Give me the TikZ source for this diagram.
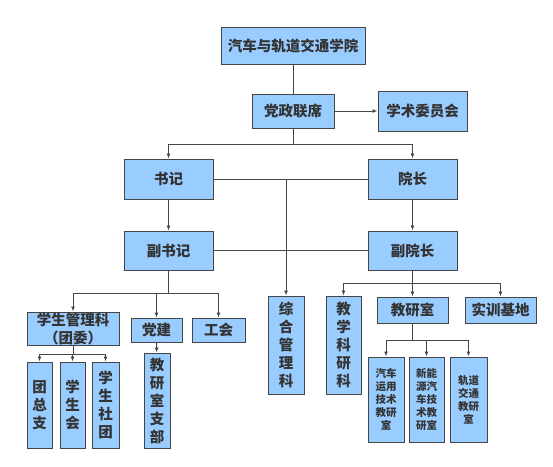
\documentclass[tikz,border=0pt]{standalone}
\usepackage{fontspec}
\setmainfont{Noto Sans CJK SC}
\usetikzlibrary{arrows.meta,positioning}
\definecolor{boxfill}{HTML}{99CCFF}
\definecolor{boxline}{HTML}{454545}
\definecolor{boxtext}{HTML}{333333}

\begin{document}
\begin{tikzpicture}[x=1pt,y=-1pt,>={Latex[length=5pt,width=4pt]},
    line width=1pt,draw=boxline,
    org node/.style={draw=boxline,fill=boxfill,text=boxtext,inner sep=0pt,align=center,
      font=\bfseries\fontsize{14.5}{18}\selectfont},
    small node/.style={org node,font=\bfseries\fontsize{10.5}{13}\selectfont}]

    \useasboundingbox (0,0) rectangle (553,466);

    % top levels
    \node[org node,minimum width=144pt,minimum height=37pt] (college) at (293,45.5) {汽车与轨道交通学院};
    \node[org node,minimum width=82pt,minimum height=34pt] (joint) at (293,111) {党政联席};
    \node[org node,minimum width=89pt,minimum height=40pt] (academic) at (422.5,111) {学术委员会};
    \node[org node,minimum width=89pt,minimum height=40pt] (secretary) at (168.5,179) {书记};
    \node[org node,minimum width=89pt,minimum height=40pt] (dean) at (412.5,179) {院长};
    \node[org node,minimum width=89pt,minimum height=39pt] (vsecretary) at (168.5,250.5) {副书记};
    \node[org node,minimum width=89pt,minimum height=39pt] (vdean) at (412.5,250.5) {副院长};

    % secretary branch
    \node[org node,minimum width=92pt,minimum height=33pt] (student) at (73,328.5) {学生管理科\\（团委）};
    \node[org node,minimum width=51pt,minimum height=24pt] (party) at (156.5,330) {党建};
    \node[org node,minimum width=53pt,minimum height=24pt] (union) at (218.5,330) {工会};
    \node[org node,minimum width=25pt,minimum height=86pt] (league) at (39.5,405) {团\\总\\支};
    \node[org node,minimum width=25pt,minimum height=86pt] (council) at (72.5,405) {学\\生\\会};
    \node[org node,minimum width=27pt,minimum height=86pt] (clubs) at (105.5,405) {学\\生\\社\\团};
    \node[org node,minimum width=26pt,minimum height=95pt] (branch) at (157,400.5) {教\\研\\室\\支\\部};

    % middle
    \node[org node,minimum width=36pt,minimum height=98pt] (general) at (286,345) {综\\合\\管\\理\\科};

    % dean branch
    \node[org node,minimum width=35pt,minimum height=98pt] (research) at (343.5,345) {教\\学\\科\\研\\科};
    \node[org node,minimum width=71pt,minimum height=26pt] (teaching) at (412.5,310) {教研室};
    \node[org node,minimum width=71pt,minimum height=26pt] (training) at (500.5,310) {实训基地};
    \node[small node,minimum width=36pt,minimum height=85pt] (auto) at (386,399.5) {汽车\\运用\\技术\\教研\\室};
    \node[small node,minimum width=35pt,minimum height=85pt] (energy) at (426.5,399.5) {新能\\源汽\\车技\\术教\\研室};
    \node[small node,minimum width=37pt,minimum height=85pt] (rail) at (468.5,399.5) {轨道\\交通\\教研\\室};

    % connectors
    \draw (college) -- (joint);
    \draw[->] (joint) -- (academic);
    \draw[->] (joint.south) -- ++(0,16) -| (secretary.north);
    \draw[->] (joint.south) -- ++(0,16) -| (dean.north);
    \draw (secretary) -- (dean);
    \draw (vsecretary) -- (vdean);
    \draw[->] (secretary) -- (vsecretary);
    \draw[->] (dean) -- (vdean);
    \draw[->] (secretary.east -| general.north) -- (general.north);

    \draw[->] (vsecretary.south) -- ++(0,23) -| (student.north);
    \draw[->] (vsecretary.south) -- ++(0,23) -| (party.north);
    \draw[->] (vsecretary.south) -- ++(0,23) -| (union.north);
    \draw[->] (party) -- (branch);
    \draw[->] (student.south) -- ++(0,9) -| (league.north);
    \draw[->] (student.south) -- ++(0,9) -| (council.north);
    \draw[->] (student.south) -- ++(0,9) -| (clubs.north);

    \draw[->] (vdean.south) -- ++(0,13) -| (research.north);
    \draw[->] (vdean.south) -- ++(0,13) -| (teaching.north);
    \draw[->] (vdean.south) -- ++(0,13) -| (training.north);
    \draw[->] (teaching.south) -- ++(0,17) -| (auto.north);
    \draw[->] (teaching.south) -- ++(0,17) -| (energy.north);
    \draw[->] (teaching.south) -- ++(0,17) -| (rail.north);
\end{tikzpicture}
\end{document}
